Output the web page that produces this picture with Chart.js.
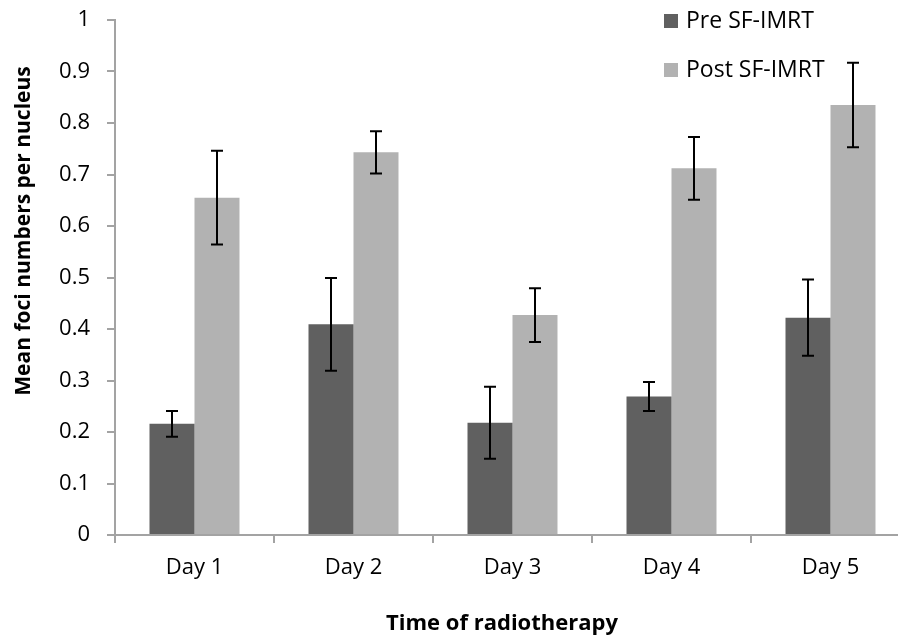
<!DOCTYPE html>
<html>
<head>
<meta charset="utf-8">
<script src="https://cdn.jsdelivr.net/npm/chart.js"></script>
<style>
  html, body { margin: 0; padding: 0; background: #fff; }
  .wrap { width: 898px; height: 640px; overflow: hidden; position: relative; }
</style>
</head>
<body>
<div class="wrap">
  <canvas id="c" width="930" height="640"></canvas>
</div>
<script>
var days = ['Day 1', 'Day 2', 'Day 3', 'Day 4', 'Day 5'];
var seriesNames = ['Pre SF-IMRT', 'Post SF-IMRT'];
var preMean = [0.216, 0.409, 0.218, 0.269, 0.422];
var preErr = [0.025, 0.090, 0.070, 0.028, 0.074];
var postMean = [0.655, 0.743, 0.427, 0.712, 0.835];
var postErr = [0.091, 0.041, 0.052, 0.061, 0.082];
var yTickLabels = ['0', '0.1', '0.2', '0.3', '0.4', '0.5', '0.6', '0.7', '0.8', '0.9', '1'];

var axisGrey = '#a3a3a3';
var fontFamily = '"Open Sans", "Liberation Sans", sans-serif';

// error bars drawn over the bars, from each dataset's "err" array
var errorBars = {
    id: 'errorBars',
    afterDatasetsDraw: function (chart) {
        var ctx = chart.ctx;
        var y = chart.scales.y;
        ctx.save();
        ctx.strokeStyle = '#000';
        ctx.lineWidth = 2;
        chart.data.datasets.forEach(function (ds, i) {
            var meta = chart.getDatasetMeta(i);
            meta.data.forEach(function (bar, j) {
                var top = y.getPixelForValue(ds.data[j] + ds.err[j]);
                var bot = y.getPixelForValue(ds.data[j] - ds.err[j]);
                var x = Math.round(bar.x);
                ctx.beginPath();
                ctx.moveTo(x, top); ctx.lineTo(x, bot);
                ctx.moveTo(x - 6, top); ctx.lineTo(x + 6, top);
                ctx.moveTo(x - 6, bot); ctx.lineTo(x + 6, bot);
                ctx.stroke();
            });
        });
        ctx.restore();
    }
};

// legend box in the top right + both axis titles
var extras = {
    id: 'extras',
    afterDraw: function (chart) {
        var ctx = chart.ctx;
        ctx.save();
        ctx.textBaseline = 'middle';
        ctx.textAlign = 'left';
        ctx.font = '23px ' + fontFamily;
        chart.data.datasets.forEach(function (ds, i) {
            var cy = 21 + i * 49;
            ctx.fillStyle = ds.backgroundColor;
            ctx.fillRect(664, cy - 7, 14, 14);
            ctx.fillStyle = '#000';
            ctx.fillText(ds.label, 686, cy);
        });

        ctx.font = 'bold 22px ' + fontFamily;
        ctx.textAlign = 'center';
        ctx.fillText('Time of radiotherapy', 502, 624);

        ctx.translate(24, 231);
        ctx.rotate(-Math.PI / 2);
        ctx.font = 'bold 21px ' + fontFamily;
        ctx.fillText('Mean foci numbers per nucleus', 0, 0);
        ctx.restore();
    }
};

var data = {
    labels: days,
    datasets: [
        {
            label: seriesNames[0],
            data: preMean,
            err: preErr,
            backgroundColor: '#606060'
        },
        {
            label: seriesNames[1],
            data: postMean,
            err: postErr,
            backgroundColor: '#b2b2b2'
        }
    ]
};

var myChart = new Chart(document.getElementById('c').getContext('2d'), {
    type: 'bar',
    data: data,
    plugins: [errorBars, extras],
    options: {
        responsive: false,
        animation: false,
        layout: { padding: { top: 20, right: 20, left: 0, bottom: 0 } },
        datasets: {
            bar: { categoryPercentage: 0.566, barPercentage: 1.0 }
        },
        plugins: {
            legend: { display: false },
            tooltip: { enabled: false }
        },
        scales: {
            x: {
                grid: {
                    offset: true,
                    drawOnChartArea: false,
                    tickLength: 8,
                    color: axisGrey,
                    lineWidth: 2
                },
                border: { color: axisGrey, width: 2 },
                ticks: {
                    color: '#000',
                    padding: 12,
                    font: { family: fontFamily, size: 22 }
                },
                afterFit: function (scale) {
                    scale.height = 105;
                    scale.paddingLeft = 0;
                    scale.paddingRight = 0;
                }
            },
            y: {
                min: 0,
                max: 1,
                grid: {
                    drawOnChartArea: false,
                    tickLength: 8,
                    color: axisGrey,
                    lineWidth: 2
                },
                border: { color: axisGrey, width: 2 },
                ticks: {
                    stepSize: 0.1,
                    color: '#000',
                    padding: 17,
                    font: { family: fontFamily, size: 22 },
                    callback: function (v, i) { return yTickLabels[i]; }
                },
                afterFit: function (scale) {
                    scale.width = 115;
                    scale.paddingTop = 0;
                    scale.paddingBottom = 0;
                }
            }
        }
    }
});
</script>
</body>
</html>
